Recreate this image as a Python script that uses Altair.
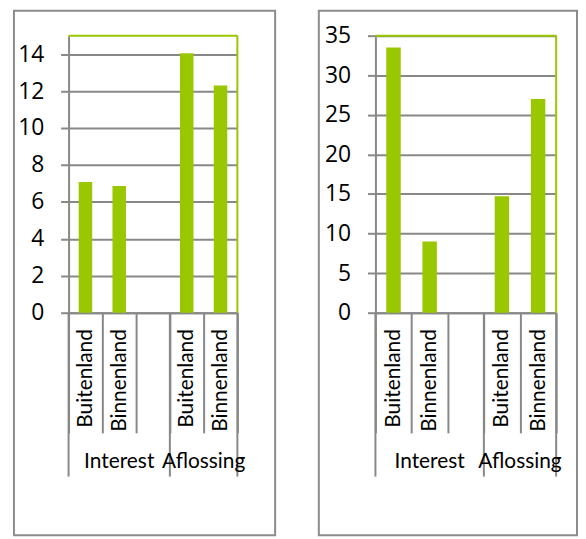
import altair as alt
import pandas as pd

groups = ["Interest", "Interest", "Interest", "Aflossing", "Aflossing"]
subcats = ["Buitenland", "Binnenland", "", "Buitenland", "Binnenland"]
left_values = [7.08, 6.86, None, 14.05, 12.3]
right_values = [33.5, 9.0, None, 14.7, 27.0]
left_ticks = [0, 2, 4, 6, 8, 10, 12, 14]
right_ticks = [0, 5, 10, 15, 20, 25, 30, 35]

keys = [g + "|" + s for g, s in zip(groups, subcats)]

FONT = "Lato"
YFONT = "Open Sans"
GRAY = "#888888"
GREEN = "#99C800"
H = 279


def panel(values, ticks, ymax, W, frame_x, frame_x2):
    df = pd.DataFrame({"cat": keys, "value": values}).dropna()
    xscale = alt.Scale(domain=keys, paddingInner=0, paddingOuter=0)
    xaxis = alt.Axis(labelExpr="split(datum.label, '|')[1]",
                     labelAngle=-90, labelFontSize=21, labelFont=FONT,
                     labelColor="#000000", tickBand="extent",
                     tickSize=121, tickColor=GRAY, tickWidth=2,
                     domainColor=GRAY, domainWidth=2,
                     labelPadding=-105, labelOverlap=False,
                     labelFlush=False, title=None)
    bars = alt.Chart(df).mark_bar(color=GREEN, width={"band": 0.4}).encode(
        x=alt.X("cat:N", scale=xscale, sort=keys, title=None, axis=xaxis),
        y=alt.Y("value:Q", scale=alt.Scale(domain=[0, ymax], nice=False),
                title=None,
                axis=alt.Axis(values=ticks, labelFontSize=23, labelFont=YFONT,
                              labelColor="#000000", tickSize=8, tickColor=GRAY,
                              tickWidth=2, domainColor=GRAY, domainWidth=2,
                              gridColor=GRAY, gridWidth=2, labelPadding=17)),
    )
    one = alt.Data(values=[{}])
    top_rule = alt.Chart(one).mark_rule(color=GREEN, strokeWidth=2).encode(
        x=alt.value(0), x2=alt.value(W), y=alt.value(0))
    right_rule = alt.Chart(one).mark_rule(color=GREEN, strokeWidth=2).encode(
        x=alt.value(W), y=alt.value(0), y2=alt.value(H))
    frame = alt.Chart(one).mark_rect(fillOpacity=0, stroke="#8c8c8c",
                                     strokeWidth=2).encode(
        x=alt.value(frame_x), x2=alt.value(frame_x2),
        y=alt.value(-25), y2=alt.value(503))

    # group separators
    starts = pd.DataFrame({"cat": [keys[0], keys[3]]})
    ends = pd.DataFrame({"cat": [keys[4]]})
    sep_start = alt.Chart(starts).mark_rule(color=GRAY, strokeWidth=2).encode(
        x=alt.X("cat:N", scale=xscale, sort=keys, axis=xaxis, bandPosition=0),
        y=alt.value(H), y2=alt.value(H + 165))
    sep_end = alt.Chart(ends).mark_rule(color=GRAY, strokeWidth=2).encode(
        x=alt.X("cat:N", scale=xscale, sort=keys, axis=xaxis, bandPosition=1),
        y=alt.value(H), y2=alt.value(H + 165))

    g1 = pd.DataFrame({"cat": [keys[1]], "label": ["Interest"]})
    g2 = pd.DataFrame({"cat": [keys[3]], "label": ["Aflossing"]})
    t1 = alt.Chart(g1).mark_text(font=FONT, fontSize=21, color="#000000",
                                 baseline="middle").encode(
        x=alt.X("cat:N", scale=xscale, sort=keys, axis=xaxis, bandPosition=0.5),
        y=alt.value(H + 150), text="label:N")
    t2 = alt.Chart(g2).mark_text(font=FONT, fontSize=21, color="#000000",
                                 baseline="middle").encode(
        x=alt.X("cat:N", scale=xscale, sort=keys, axis=xaxis, bandPosition=1),
        y=alt.value(H + 150), text="label:N")

    return alt.layer(frame, bars, top_rule, right_rule, sep_start, sep_end,
                     t1, t2).properties(width=W, height=H)


left = panel(left_values, left_ticks, 15, 170, -55, 208)
right = panel(right_values, right_ticks, 35, 182, -57, 203)

chart = alt.hconcat(left, right, spacing=42).properties(
    padding={"left": 5, "top": 0, "right": 0, "bottom": 0}
).configure_view(stroke=None)

chart.save("out.html", embed_options={"renderer": "svg", "actions": False})
